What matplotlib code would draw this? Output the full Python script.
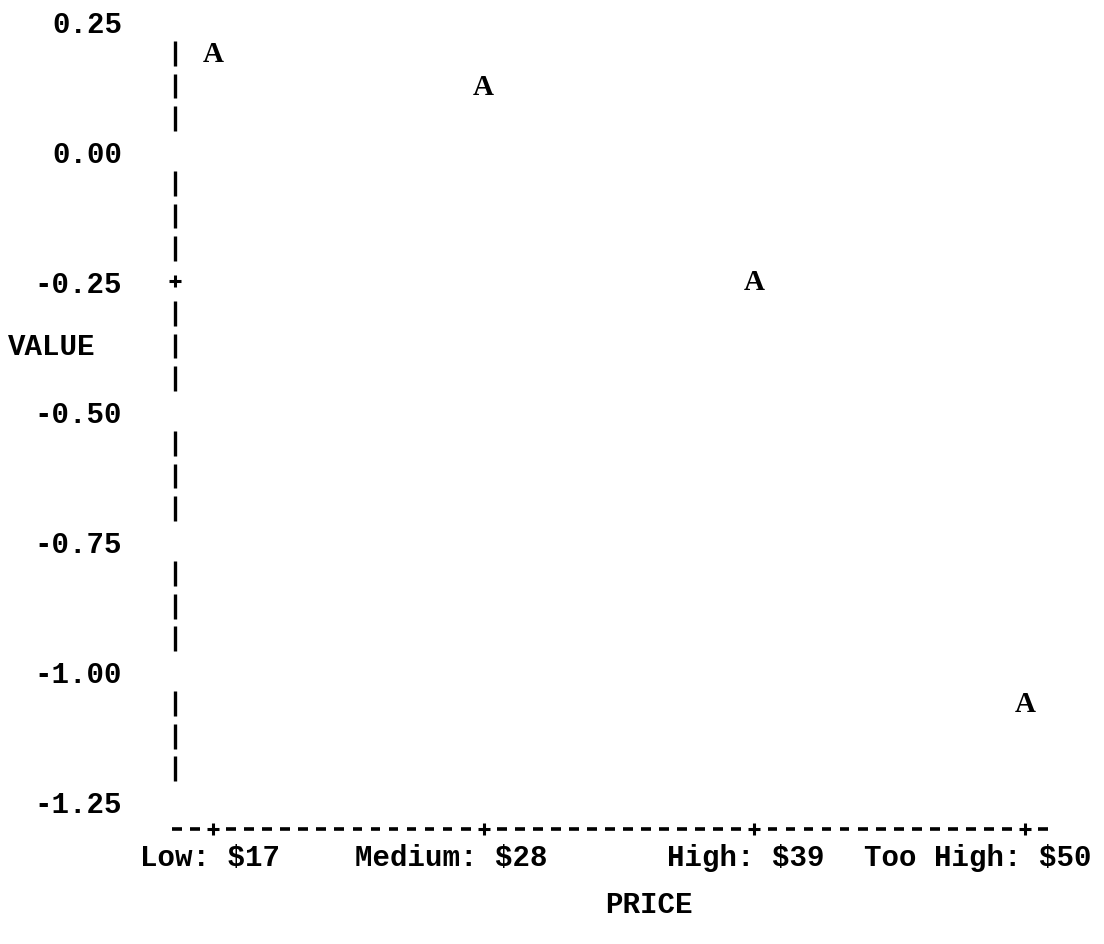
import numpy as np
import matplotlib
matplotlib.use("Agg")
import matplotlib.pyplot as plt
from matplotlib.transforms import blended_transform_factory, ScaledTranslation

# Price levels and estimated part-worth values
categories = ["Low: $17", "Medium: $28", "High: $39", "Too High: $50"]
values = [0.1875, 0.125, -0.25, -1.0625]
y_ticks = [0.25, 0.00, -0.25, -0.50, -0.75, -1.00, -1.25]
y_tick_labels = ["0.25", "0.00", "-0.25", "-0.50", "-0.75", "-1.00", "-1.25"]
plot_symbol = "A"

W, H, DPI = 1104, 945, 100
MONO = "Liberation Mono"
FS = 21.0

fig = plt.figure(figsize=(W / DPI, H / DPI), dpi=DPI)
fig.patch.set_facecolor("white")

# axes box: left edge is the vertical axis, bottom edge is the horizontal axis
ax = fig.add_axes([175 / W, 1 - 830 / H, (1060 - 175) / W, (830 - 10) / H])
ax.set_facecolor("white")
x = np.arange(len(categories))
ax.set_xlim(-0.1404, 3.129)
ax.set_ylim(-1.3038, 0.2731)
for s in ax.spines.values():
    s.set_visible(False)

# y ticks as printed labels
ax.set_yticks(y_ticks)
ax.set_yticklabels(y_tick_labels, fontfamily=MONO, fontweight="bold", fontsize=FS)
ax.tick_params(axis="y", length=0, pad=38)
ax.set_xticks([])

x0, x1 = ax.get_xlim()
y0, y1 = ax.get_ylim()

# vertical axis drawn as printer rows: '|' between ticks, '+' at -0.25
row_step = 0.0625
rows = np.arange(y_ticks[0], y_ticks[-1] - 1e-9, -row_step)
for r in rows:
    if np.isclose(r, -0.25):
        ax.plot([x0], [r], marker="+", ms=9, mew=2.2, color="black", clip_on=False)
    elif not np.any(np.isclose(r, y_ticks)):
        ax.vlines(x0, r - 0.024, r + 0.024, color="black", lw=2.4, clip_on=False)

# horizontal axis drawn as printer columns: '-' with '+' at each category
col_step = 1 / 15
cols = np.arange(x[0] - 2 * col_step, x[-1] + 1.5 * col_step, col_step)
for c in cols:
    if np.any(np.isclose(c, x)):
        ax.plot([c], [y0], marker="+", ms=9, mew=2.2, color="black", clip_on=False)
    else:
        ax.hlines(y0, c - 0.018, c + 0.018, color="black", lw=2.6, clip_on=False)

# plotted symbols
for xi, v in zip(x, values):
    ax.text(xi, v, plot_symbol, ha="center", va="center", fontfamily="Liberation Serif",
            fontweight="bold", fontsize=FS, color="black")

# category labels under the axis
label_shift_px = [-3, -32, -9, -47]
base = blended_transform_factory(ax.transData, ax.transAxes)
for xi, lab, dx in zip(x, categories, label_shift_px):
    tr = base + ScaledTranslation(dx / DPI, -28 / DPI, fig.dpi_scale_trans)
    ax.text(xi, 0, lab, transform=tr, ha="center", va="center",
            fontfamily=MONO, fontweight="bold", fontsize=FS, color="black")

fig.text(8 / W, 1 - 347 / H, "VALUE", ha="left", va="center",
         fontfamily=MONO, fontweight="bold", fontsize=FS)
fig.text(649 / W, 1 - 905 / H, "PRICE", ha="center", va="center",
         fontfamily=MONO, fontweight="bold", fontsize=FS)

fig.savefig("out.png", dpi=DPI, facecolor="white")
